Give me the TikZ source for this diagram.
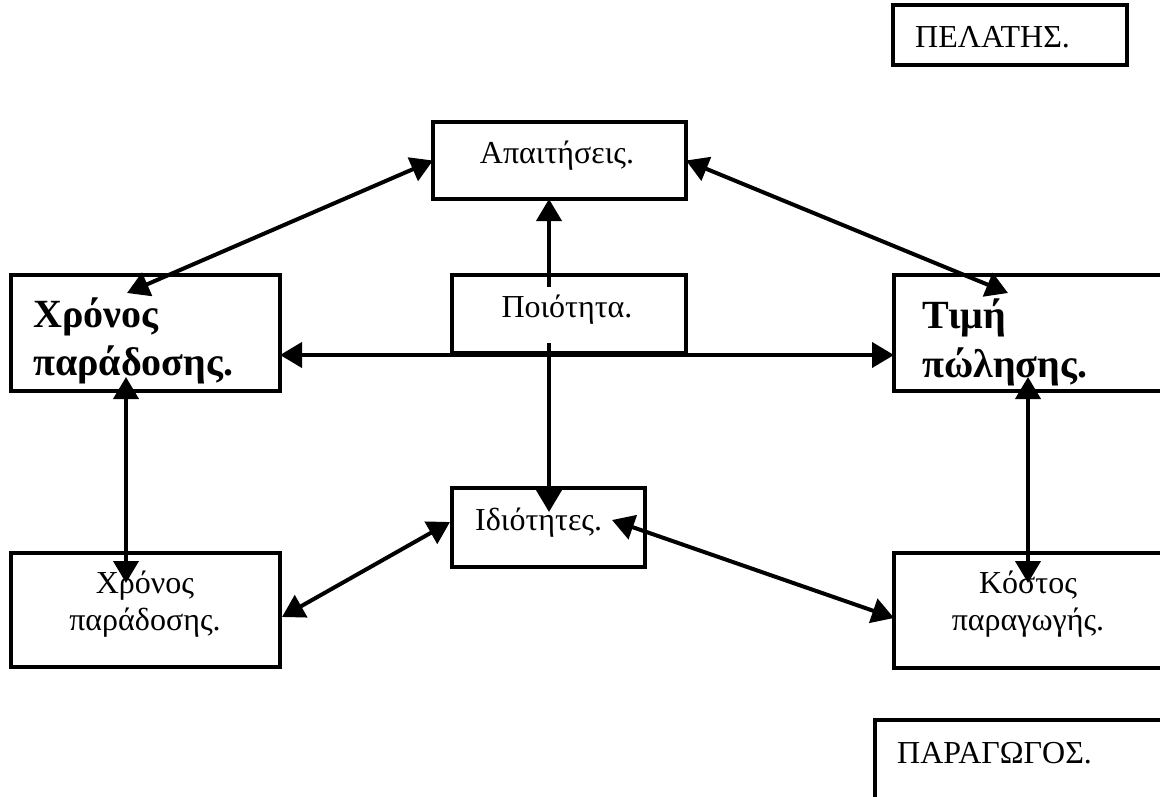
\documentclass[tikz,border=0pt]{standalone}
\usepackage{fontspec}
\setmainfont{Liberation Serif}
\usetikzlibrary{arrows.meta,calc}
\begin{document}
\begin{tikzpicture}[x=1pt,y=-1pt,
  box/.style={draw, line width=3.5pt, inner sep=0pt, outer sep=0pt},
  link/.style={line width=4pt, {Triangle[length=22pt,width=25pt]}-{Triangle[length=22pt,width=25pt]}},
  onelink/.style={line width=4pt, -{Triangle[length=22pt,width=25pt]}},
  lbl/.style={inner sep=0pt, font=\fontsize{32}{38}\selectfont},
  blbl/.style={inner sep=0pt, font=\bfseries\fontsize{40}{48}\selectfont}]
\useasboundingbox (0,0) rectangle (1160,796);
\clip (0,0) rectangle (1160,796);
\fill[white] (0,0) rectangle (1160,796);

% frames
\node[box, minimum width=234pt, minimum height=60pt]  (pel) at (1010,35) {};
\node[box, minimum width=253pt, minimum height=77pt]  (apa) at (559.5,160.5) {};
\node[box, minimum width=234pt, minimum height=78pt]  (poi) at (569,314) {};
\node[box, minimum width=269pt, minimum height=116pt] (xb)  at (145.5,333) {};
\node[box, minimum width=269pt, minimum height=116pt] (tb)  at (1028.5,333) {};
\node[box, minimum width=193pt, minimum height=79pt]  (idi) at (548.5,527.5) {};
\node[box, minimum width=269pt, minimum height=114pt] (xn)  at (145.5,610) {};
\node[box, minimum width=269pt, minimum height=115pt] (kos) at (1028.5,610.5) {};
\node[box, minimum width=310pt, minimum height=100pt] (par) at (1030,770) {};

% labels
\node[lbl, anchor=base west] (pel-t) at (915,47) {ΠΕΛΑΤΗΣ.};
\node[lbl, anchor=base] (apa-t) at (557,163) {Απαιτήσεις.};
\node[blbl, anchor=base west] (xb-t1) at (33,327) {Χρόνος};
\node[blbl, anchor=base west] (xb-t2) at (33,375) {παράδοσης.};
\node[blbl, anchor=base west] (tb-t1) at (922,328) {Τιμή};
\node[blbl, anchor=base west] (tb-t2) at (922,377) {πώλησης.};
\node[lbl, anchor=base west] (idi-t) at (475,530) {Ιδιότητες.};
\node[lbl, anchor=base] (xn-t1) at (145,593) {Χρόνος};
\node[lbl, anchor=base] (xn-t2) at (145,630) {παράδοσης.};
\node[lbl, anchor=base] (kos-t1) at (1028,593) {Κόστος};
\node[lbl, anchor=base] (kos-t2) at (1028,630) {παραγωγής.};
\node[lbl, anchor=base west] (par-t) at (897,763) {ΠΑΡΑΓΩΓΟΣ.};

% connectors
\draw[link] (apa.west) -- ([shift={(116,18)}]xb.north west);
\draw[link] (apa.east) -- ([shift={(114,18)}]tb.north west);
\draw[onelink] ([shift={(97,12)}]poi.north west) -- ([shift={(-10.5,0)}]apa.south);
\draw[onelink] ([shift={(97,-10)}]poi.south west) -- ([shift={(97,24)}]idi.north west);
\draw[link] ([shift={(0,-36)}]xb.south east) -- ([shift={(0,-36)}]tb.south west);
\draw[link] ([shift={(115,-14)}]xb.south west) -- ([shift={(115,30)}]xn.north west);
\draw[link] ([shift={(134,-14)}]tb.south west) -- ([shift={(134,30)}]kos.north west);
\draw[link] ([shift={(-2,34)}]idi.north west) -- ([shift={(2,64)}]xn.north east);
\draw[link] ([shift={(160,32)}]idi.north west) -- ([shift={(0,65)}]kos.north west);

% white interior of the quality frame, over the vertical line
\fill[white] ([shift={(5,12)}]poi.north west) rectangle ([shift={(-5,-10)}]poi.south east);
\node[lbl, anchor=base] (poi-t) at (567,317) {Ποιότητα.};
\end{tikzpicture}
\end{document}
